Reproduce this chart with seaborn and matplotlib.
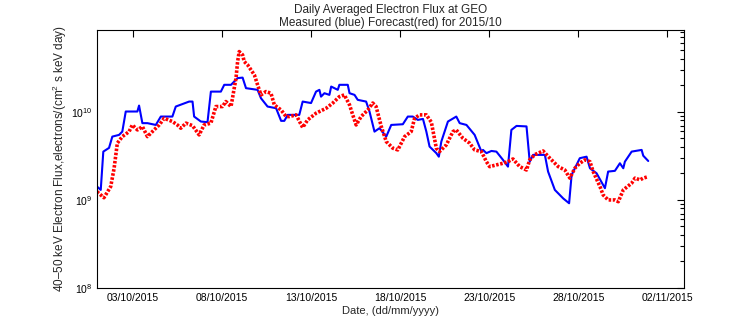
import numpy as np
import pandas as pd
import matplotlib
matplotlib.use("Agg")
import matplotlib.pyplot as plt
import matplotlib.dates as mdates
from matplotlib.ticker import LogLocator, NullFormatter
import seaborn as sns

# Measured (blue): days since 2015-10-01 00:00 and flux
meas_days = [0.0, 0.21, 0.354, 0.675, 0.86, 1.237, 1.42, 1.613, 2.265, 2.36, 2.546, 2.83, 3.30, 3.58,
             4.23, 4.42, 5.17, 5.36, 5.45, 5.83, 6.2, 6.39, 6.95, 7.14, 7.52, 7.89, 8.17, 8.36, 9.01,
             9.20, 9.57, 10.05, 10.33, 10.51, 10.70, 11.35, 11.54, 12.01, 12.29, 12.48, 12.57, 12.76,
             13.04, 13.14, 13.51, 13.60, 14.07, 14.17, 14.45, 14.63, 15.10, 15.29, 15.57, 15.85, 16.23,
             16.51, 17.16, 17.44, 17.72, 18.0, 18.29, 18.48, 18.66, 19.04, 19.18, 19.32, 19.69, 20.16,
             20.35, 20.73, 21.19, 21.57, 21.66, 21.85, 22.13, 22.41, 22.78, 23.06, 23.25, 23.54, 24.10,
             24.28, 24.47, 25.13, 25.31, 25.69, 26.16, 26.49, 26.63, 27.09, 27.47, 27.66, 28.03, 28.5,
             28.68, 29.06, 29.34, 29.53, 29.62, 30.0, 30.56, 30.65, 30.93]
meas_flux = [1.42e9, 1.30e9, 3.54e9, 3.90e9, 5.24e9, 5.48e9, 5.97e9, 1.01e10, 1.01e10, 1.18e10, 7.45e9,
             7.45e9, 7.11e9, 8.85e9, 8.85e9, 1.15e10, 1.31e10, 1.31e10, 8.85e9, 7.77e9, 7.64e9, 1.70e10,
             1.70e10, 2.03e10, 2.03e10, 2.42e10, 2.45e10, 1.86e10, 1.78e10, 1.43e10, 1.15e10, 1.10e10,
             7.91e9, 7.91e9, 9.25e9, 9.25e9, 1.31e10, 1.26e10, 1.70e10, 1.78e10, 1.49e10, 1.63e10,
             1.56e10, 1.94e10, 1.78e10, 2.03e10, 2.03e10, 1.63e10, 1.56e10, 1.37e10, 1.31e10, 1.01e10,
             5.97e9, 6.53e9, 5.24e9, 7.11e9, 7.24e9, 8.85e9, 8.85e9, 8.11e9, 8.32e9, 5.97e9, 4.04e9,
             3.40e9, 3.10e9, 4.60e9, 7.77e9, 8.85e9, 7.45e9, 7.11e9, 5.48e9, 3.54e9, 3.70e9, 3.40e9,
             3.60e9, 3.54e9, 2.85e9, 2.39e9, 6.24e9, 6.93e9, 6.84e9, 2.72e9, 3.25e9, 3.25e9, 2.10e9,
             1.30e9, 1.04e9, 9.17e8, 1.92e9, 2.98e9, 3.10e9, 2.29e9, 2.01e9, 1.36e9, 2.10e9, 2.14e9,
             2.61e9, 2.29e9, 2.72e9, 3.54e9, 3.70e9, 3.18e9, 2.77e9]

# Forecast (red)
fc_days = [0.0, 0.39, 0.77, 0.96, 1.14, 1.42, 1.80, 1.98, 2.27, 2.55, 2.83, 3.20, 3.49, 3.77, 4.23,
           4.51, 4.70, 4.99, 5.36, 5.73, 6.01, 6.39, 6.67, 7.04, 7.23, 7.52, 7.70, 7.80, 7.89, 7.98,
           8.17, 8.26, 8.45, 8.64, 8.83, 9.01, 9.20, 9.48, 9.76, 9.95, 10.33, 10.61, 10.79, 11.17,
           11.54, 11.82, 12.29, 12.86, 13.23, 13.60, 13.88, 14.17, 14.35, 14.54, 14.82, 15.19, 15.47,
           15.66, 15.95, 16.23, 16.60, 16.88, 17.26, 17.63, 17.82, 18.10, 18.48, 18.76, 19.04, 19.22,
           19.60, 19.97, 20.16, 20.53, 20.91, 21.19, 21.57, 21.85, 22.03, 22.41, 22.78, 23.06, 23.34,
           23.72, 24.10, 24.28, 24.56, 25.03, 25.41, 25.88, 26.25, 26.53, 26.81, 27.09, 27.37, 27.66,
           27.84, 28.22, 28.40, 28.68, 29.06, 29.25, 29.53, 30.0, 30.19, 30.47, 30.65, 30.93]
fc_flux = [1.24e9, 1.06e9, 1.42e9, 2.29e9, 4.41e9, 5.24e9, 5.97e9, 7.11e9, 6.24e9, 6.81e9, 5.24e9,
           6.24e9, 7.11e9, 8.47e9, 7.77e9, 7.11e9, 6.53e9, 7.45e9, 6.98e9, 5.48e9, 7.11e9, 7.45e9,
           1.15e10, 1.15e10, 1.31e10, 1.15e10, 1.86e10, 2.42e10, 3.73e10, 4.84e10, 4.44e10, 3.73e10,
           3.42e10, 3.0e10, 2.63e10, 2.03e10, 1.56e10, 1.70e10, 1.63e10, 1.20e10, 1.05e10, 8.85e9,
           8.85e9, 9.25e9, 6.64e9, 8.11e9, 9.66e9, 1.10e10, 1.26e10, 1.49e10, 1.56e10, 1.20e10, 9.25e9,
           7.11e9, 8.85e9, 1.05e10, 1.26e10, 1.15e10, 6.84e9, 4.60e9, 3.87e9, 3.70e9, 5.24e9, 5.97e9,
           8.47e9, 9.25e9, 9.25e9, 7.64e9, 3.87e9, 3.54e9, 4.22e9, 5.97e9, 6.24e9, 5.02e9, 4.41e9,
           3.70e9, 3.54e9, 2.72e9, 2.39e9, 2.50e9, 2.61e9, 2.72e9, 2.92e9, 2.39e9, 2.19e9, 2.85e9,
           3.27e9, 3.60e9, 2.98e9, 2.39e9, 2.19e9, 1.77e9, 2.29e9, 2.61e9, 2.85e9, 2.72e9, 2.10e9,
           1.42e9, 1.14e9, 1.0e9, 1.0e9, 9.56e8, 1.30e9, 1.55e9, 1.77e9, 1.69e9, 1.77e9, 1.84e9]

tick_dates = ["2015-10-03", "2015-10-08", "2015-10-13", "2015-10-18", "2015-10-23", "2015-10-28", "2015-11-02"]
title_text = "Daily Averaged Electron Flux at GEO\nMeasured (blue) Forecast(red) for 2015/10"
xlabel_text = "Date, (dd/mm/yyyy)"
ylabel_text = r"40$\endash$50 keV Electron Flux,electrons/(cm$^2$ s keV day)"

start = pd.Timestamp("2015-10-01")
meas = pd.DataFrame({"date": start + pd.to_timedelta(meas_days, unit="D"), "flux": meas_flux})
fc = pd.DataFrame({"date": start + pd.to_timedelta(fc_days, unit="D"), "flux": fc_flux})

sns.set_style("white")
plt.rcParams["font.family"] = ["Liberation Sans", "DejaVu Sans"]
plt.rcParams["mathtext.fontset"] = "custom"
plt.rcParams["mathtext.rm"] = "Liberation Sans"
plt.rcParams["mathtext.it"] = "Liberation Sans"
plt.rcParams["mathtext.default"] = "regular"

fig = plt.figure(figsize=(7.56, 3.24), dpi=100)
ax = fig.add_axes([97 / 756, 1 - 288 / 324, (683.7 - 97) / 756, (288 - 30) / 324])

sns.lineplot(data=meas, x="date", y="flux", ax=ax, color="#0000ff", linewidth=1.5, estimator=None, sort=False)
sns.lineplot(data=fc, x="date", y="flux", ax=ax, color="#ff0000", linewidth=2.6,
             linestyle=(0, (0.7, 0.45)), estimator=None, sort=False)

ax.set_yscale("log")
ax.set_ylim(1e8, 10 ** 10.93)
ax.set_xlim(start, start + pd.Timedelta(days=32.92))

ax.set_xticks(pd.to_datetime(tick_dates))
ax.xaxis.set_major_formatter(mdates.DateFormatter("%d/%m/%Y"))
ax.yaxis.set_major_locator(LogLocator(base=10, numticks=10))
ax.yaxis.set_minor_locator(LogLocator(base=10, subs=np.arange(2, 10), numticks=20))
ax.yaxis.set_minor_formatter(NullFormatter())

ax.tick_params(axis="both", which="both", direction="in", top=True, right=True,
               labelsize=7.5, colors="black", width=0.8)
ax.tick_params(axis="both", which="major", length=5)
ax.tick_params(axis="y", which="minor", length=3)
for s in ax.spines.values():
    s.set_color("black")
    s.set_linewidth(0.8)

ax.set_title(title_text, fontsize=8.5, pad=3, linespacing=1.1)
ax.set_xlabel(xlabel_text, fontsize=8, labelpad=2)
ax.set_ylabel(ylabel_text, fontsize=8.5, labelpad=1)
ax.grid(False)

fig.savefig("out.png", dpi=100)
